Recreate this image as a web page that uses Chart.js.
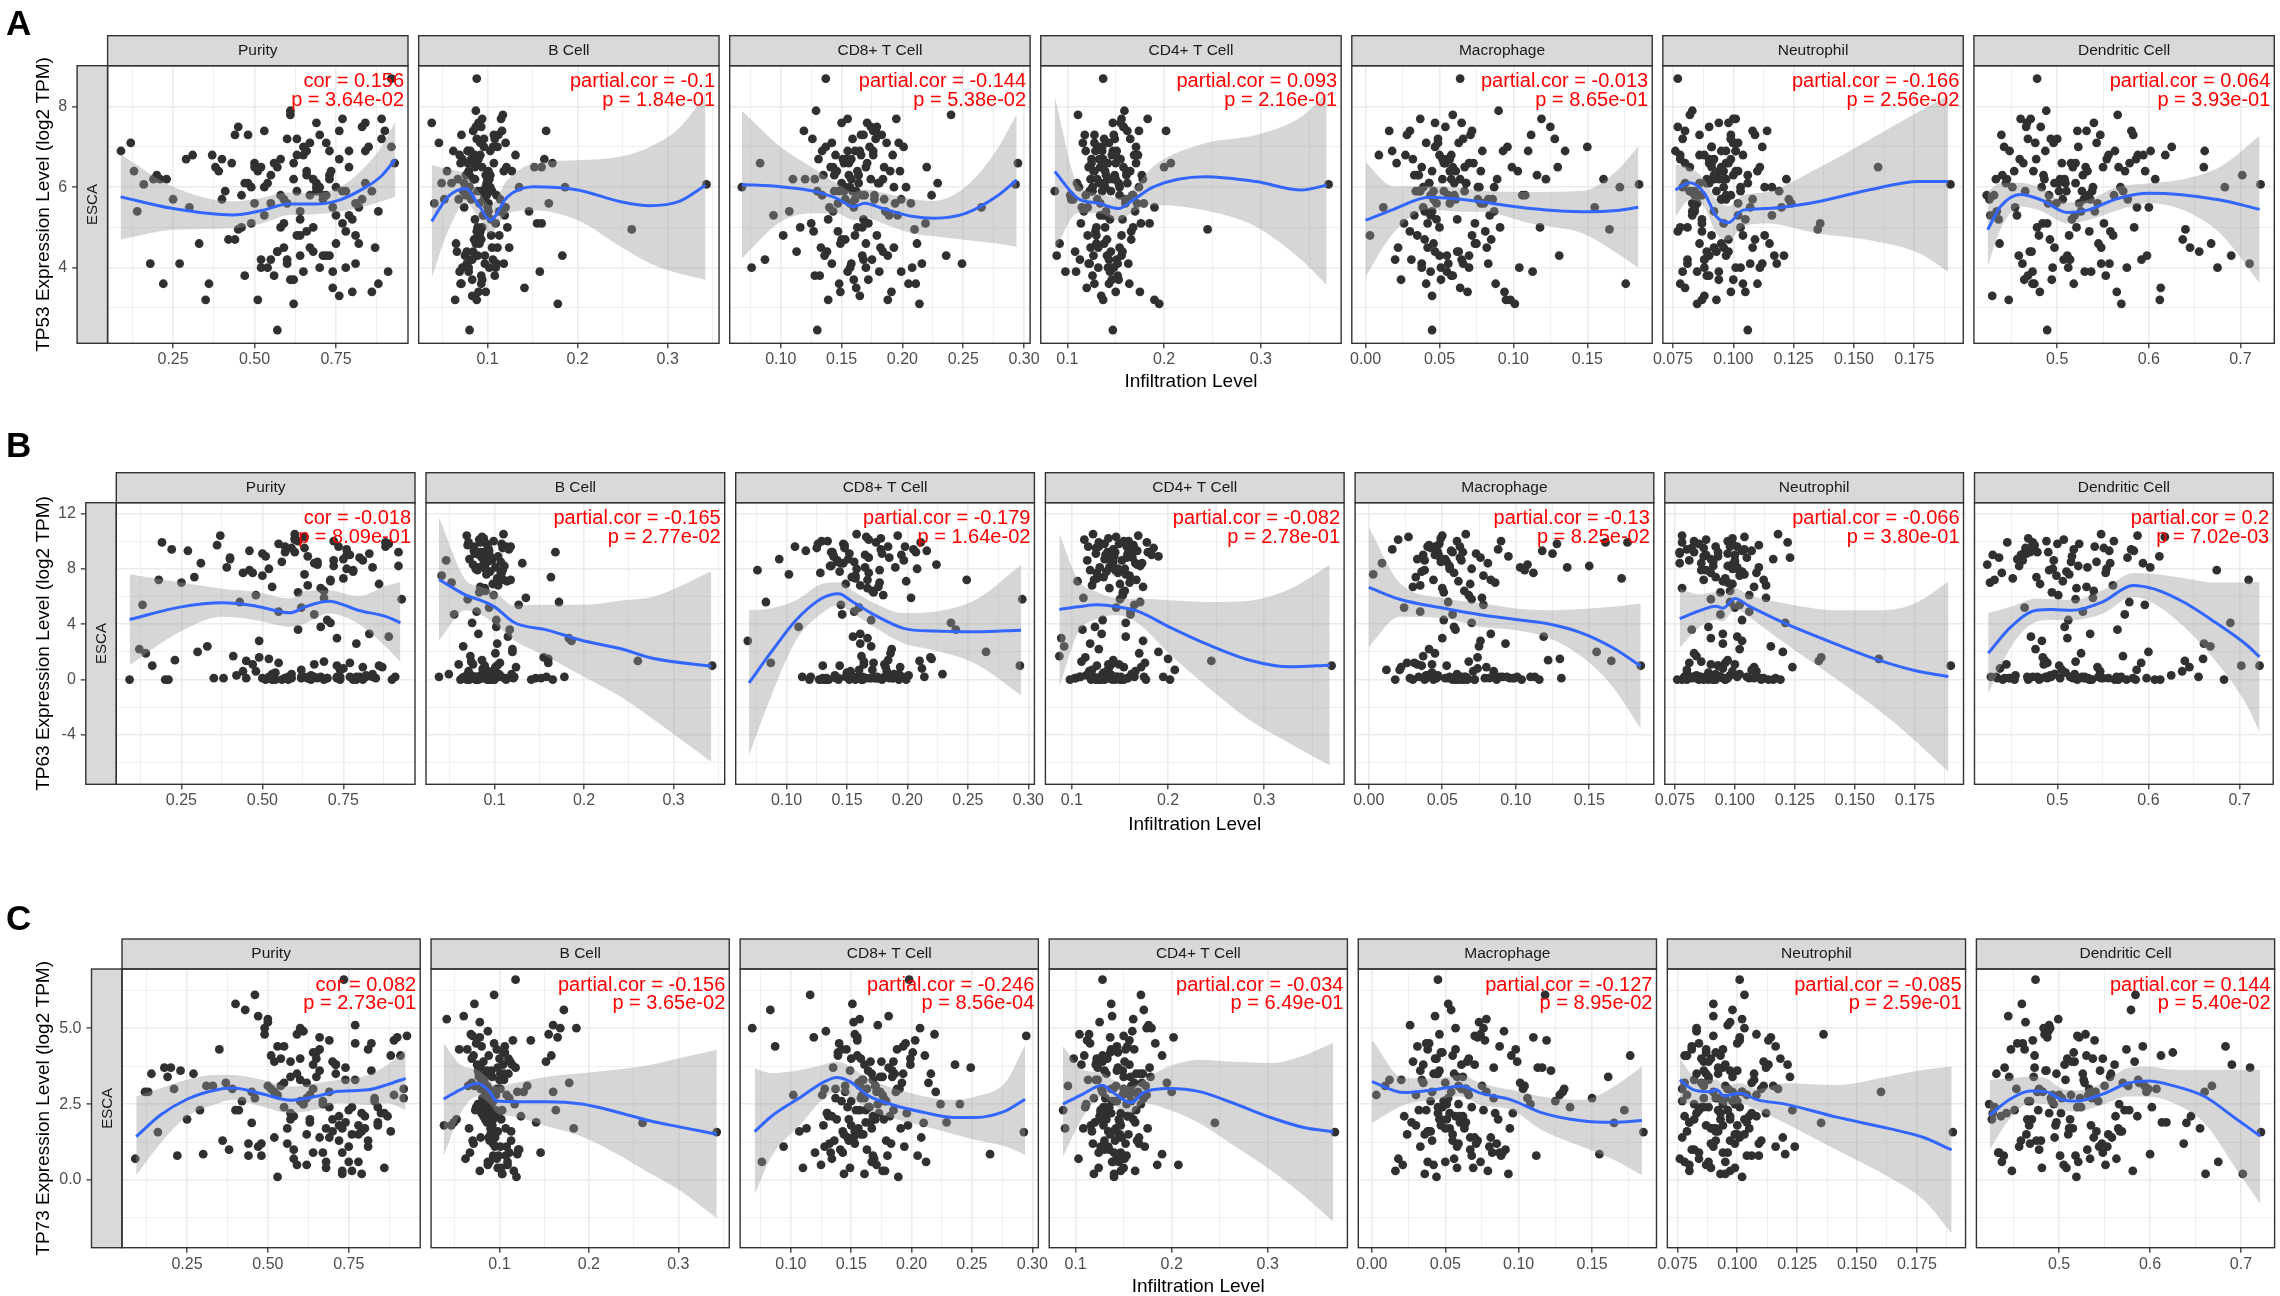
<!DOCTYPE html>
<html><head><meta charset="utf-8"><title>TP53 / TP63 / TP73 vs immune infiltration (ESCA)</title>
<script src="https://cdn.jsdelivr.net/npm/chart.js@4.4.1/dist/chart.umd.min.js"></script>
<style>
html,body{margin:0;padding:0;background:#fff}
#page{position:relative;width:2280px;height:1296px;overflow:hidden;background:#fff;font-family:'Liberation Sans',Arial,Helvetica,sans-serif}
canvas.pc{position:absolute}
.tx{position:absolute;white-space:nowrap;color:#000;line-height:1}
</style></head>
<body><div id="page"></div>
<script>
// ================= DATA =================
const cellTypes = ['Purity','B Cell','CD8+ T Cell','CD4+ T Cell','Macrophage','Neutrophil','Dendritic Cell'];

// infiltration level per sample (shared by all three genes)
const purity = [0.16,0.92,0.57,0.735,0.45,0.30,0.52,0.93,
0.62,0.81,0.48,0.71,0.22,0.58,0.77,0.39,0.68,0.89,
0.55,0.73,0.64,0.84,0.51,0.12,0.69,0.60,0.43,0.79,
0.66,0.47,0.83,0.59,0.75,0.31,0.70,0.53,0.88,0.63,
0.72,0.57,0.41,0.86,0.65,0.19,0.78,0.50,0.61,0.74,
0.54,0.80,0.67,0.37,0.62,0.90,0.46,0.73,0.27,0.58,
0.69,0.82,0.56,0.64,0.49,0.76,0.09,0.71,0.44,0.60,
0.77,0.52,0.66,0.85,0.59,0.23,0.74,0.63,0.40,0.81,
0.57,0.70,0.48,0.91,0.67,0.79,0.33,0.61,0.53,0.75,
0.65,0.36,0.83,0.55,0.72,0.20,0.68,0.87,0.50,0.62,
0.78,0.45,0.60,0.73,0.14,0.84,0.56,0.69,0.42,0.76,
0.51,0.64,0.80,0.29,0.71,0.58,0.89,0.47,0.66,0.74,
0.61,0.38,0.77,0.54,0.68,0.25,0.82,0.63,0.49,0.92,
0.70,0.57,0.86,0.44,0.65,0.13,0.75,0.52,0.79,0.60,
0.67,0.81,0.55,0.35,0.72,0.62,0.18,0.84,0.46,0.69,
0.59,0.76,0.64,0.53,0.88,0.21,0.73,0.40,0.66,0.78,
0.50,0.63];
const bCell = [0.343,0.088,0.080,0.118,0.260,0.120,0.160,0.070,
0.085,0.097,0.071,0.110,0.093,0.082,0.160,0.101,0.066,0.115,
0.091,0.078,0.104,0.049,0.088,0.120,0.095,0.083,0.172,0.099,
0.076,0.108,0.093,0.068,0.087,0.131,0.102,0.080,0.113,0.096,
0.089,0.152,0.073,0.098,0.106,0.084,0.092,0.041,0.117,0.079,
0.100,0.086,0.111,0.069,0.094,0.165,0.081,0.103,0.077,0.122,
0.090,0.074,0.107,0.097,0.186,0.083,0.062,0.114,0.093,0.088,
0.105,0.079,0.055,0.096,0.109,0.086,0.141,0.091,0.072,0.101,
0.084,0.112,0.099,0.158,0.076,0.094,0.065,0.087,0.119,0.103,
0.092,0.070,0.082,0.106,0.046,0.098,0.089,0.124,0.078,0.178,
0.095,0.087,0.110,0.067,0.101,0.081,0.093,0.135,0.085,0.116,
0.079,0.104,0.090,0.163,0.075,0.097,0.108,0.060,0.088,0.100,
0.083,0.121,0.094,0.072,0.102,0.052,0.091,0.086,0.155,0.111,
0.098,0.077,0.089,0.107,0.069,0.127,0.095,0.082,0.103,0.168,
0.092,0.113,0.080,0.064,0.099,0.087,0.118,0.038,0.094,0.074,
0.105,0.090,0.146,0.084,0.071,0.100,0.183,0.096,0.078,0.109,
0.086,0.093];
const cd8 = [0.293,0.137,0.130,0.198,0.210,0.265,0.220,0.295,
0.158,0.142,0.183,0.167,0.205,0.131,0.172,0.190,0.113,0.155,
0.147,0.176,0.161,0.229,0.139,0.187,0.152,0.168,0.083,0.196,
0.164,0.128,0.179,0.153,0.212,0.145,0.170,0.193,0.107,0.159,
0.136,0.185,0.162,0.149,0.201,0.174,0.127,0.157,0.240,0.181,
0.150,0.168,0.133,0.192,0.160,0.119,0.177,0.144,0.216,0.163,
0.171,0.140,0.156,0.188,0.068,0.165,0.134,0.199,0.153,0.178,
0.159,0.208,0.146,0.173,0.125,0.184,0.162,0.102,0.151,0.194,
0.138,0.166,0.180,0.155,0.224,0.143,0.170,0.129,0.189,0.157,
0.176,0.148,0.161,0.087,0.197,0.135,0.167,0.182,0.152,0.214,
0.144,0.174,0.158,0.120,0.186,0.165,0.132,0.203,0.150,0.178,
0.163,0.139,0.191,0.154,0.236,0.169,0.126,0.181,0.147,0.160,
0.172,0.141,0.195,0.157,0.110,0.177,0.149,0.166,0.219,0.137,
0.153,0.184,0.130,0.168,0.199,0.145,0.094,0.175,0.161,0.207,
0.142,0.179,0.156,0.188,0.134,0.171,0.249,0.150,0.116,0.164,
0.193,0.158,0.143,0.176,0.211,0.128,0.167,0.185,0.155,0.076,
0.170,0.148];
const cd4 = [0.370,0.137,0.147,0.128,0.245,0.190,0.200,0.150,
0.131,0.152,0.118,0.167,0.143,0.125,0.176,0.139,0.108,0.156,
0.134,0.147,0.121,0.162,0.190,0.128,0.145,0.113,0.171,0.137,
0.149,0.126,0.158,0.104,0.138,0.173,0.132,0.154,0.117,0.165,
0.141,0.122,0.087,0.150,0.136,0.178,0.129,0.160,0.111,0.144,
0.133,0.157,0.124,0.169,0.146,0.202,0.119,0.140,0.163,0.130,
0.155,0.115,0.142,0.127,0.174,0.135,0.151,0.106,0.166,0.138,
0.123,0.148,0.161,0.132,0.185,0.143,0.120,0.156,0.137,0.172,
0.145,0.128,0.153,0.109,0.168,0.134,0.092,0.159,0.140,0.126,
0.150,0.164,0.131,0.143,0.116,0.177,0.139,0.154,0.125,0.195,
0.136,0.158,0.122,0.147,0.170,0.129,0.152,0.112,0.141,0.162,
0.127,0.144,0.175,0.133,0.156,0.103,0.149,0.138,0.166,0.121,
0.153,0.135,0.183,0.142,0.124,0.160,0.130,0.146,0.114,0.171,
0.139,0.157,0.126,0.148,0.098,0.165,0.134,0.151,0.119,0.179,
0.143,0.130,0.161,0.137,0.154,0.207,0.123,0.147,0.168,0.110,
0.132,0.155,0.140,0.174,0.128,0.150,0.089,0.163,0.136,0.145,
0.158,0.125];
const macro = [0.185,0.064,0.045,0.045,0.165,0.155,0.130,0.070,
0.052,0.038,0.071,0.044,0.088,0.057,0.026,0.103,0.063,0.119,
0.048,0.079,0.035,0.060,0.095,0.041,0.067,0.020,0.054,0.084,
0.033,0.058,0.125,0.046,0.074,0.009,0.051,0.087,0.040,0.066,
0.055,0.099,0.037,0.069,0.047,0.161,0.030,0.078,0.059,0.113,
0.043,0.062,0.082,0.050,0.024,0.072,0.106,0.036,0.056,0.091,
0.065,0.039,0.053,0.131,0.076,0.045,0.018,0.061,0.085,0.049,
0.034,0.070,0.057,0.096,0.042,0.122,0.064,0.003,0.052,0.080,
0.047,0.028,0.068,0.055,0.108,0.038,0.075,0.090,0.044,0.172,
0.058,0.041,0.083,0.031,0.063,0.116,0.050,0.022,0.073,0.101,
0.036,0.054,0.066,0.089,0.045,0.135,0.059,0.077,0.040,0.016,
0.061,0.048,0.094,0.032,0.070,0.056,0.128,0.043,0.081,0.012,
0.051,0.067,0.037,0.104,0.058,0.086,0.046,0.027,0.074,0.150,
0.039,0.062,0.053,0.112,0.044,0.078,0.033,0.065,0.093,0.057,
0.049,0.072,0.035,0.098,0.060,0.021,0.083,0.047,0.118,0.068,
0.042,0.055,0.087,0.030,0.176,0.064,0.050,0.076,0.110,0.038,
0.059,0.046];
const neutro = [0.190,0.077,0.106,0.101,0.135,0.120,0.160,0.090,
0.092,0.081,0.099,0.087,0.104,0.078,0.096,0.110,0.089,0.101,
0.085,0.097,0.113,0.080,0.093,0.102,0.119,0.088,0.098,0.083,
0.100,0.090,0.077,0.108,0.095,0.086,0.103,0.116,0.092,0.079,
0.097,0.111,0.084,0.099,0.091,0.122,0.087,0.102,0.082,0.094,
0.089,0.105,0.096,0.078,0.100,0.114,0.086,0.093,0.107,0.081,
0.098,0.084,0.091,0.117,0.103,0.088,0.076,0.095,0.109,0.099,
0.082,0.101,0.094,0.112,0.087,0.097,0.080,0.104,0.090,0.124,
0.093,0.086,0.106,0.079,0.099,0.091,0.115,0.083,0.102,0.096,
0.088,0.110,0.095,0.081,0.100,0.092,0.078,0.108,0.097,0.085,
0.103,0.090,0.118,0.094,0.083,0.101,0.089,0.113,0.098,0.080,
0.096,0.087,0.105,0.092,0.121,0.084,0.099,0.090,0.077,0.107,
0.094,0.082,0.100,0.111,0.089,0.097,0.086,0.104,0.136,0.091,
0.079,0.098,0.093,0.109,0.085,0.102,0.116,0.088,0.095,0.083,
0.100,0.091,0.106,0.087,0.097,0.080,0.112,0.094,0.103,0.086,
0.092,0.099,0.084,0.108,0.078,0.096,0.090,0.123,0.101,0.088,
0.095,0.082];
const dendritic = [0.722,0.478,0.489,0.474,0.640,0.600,0.660,0.520,
0.503,0.462,0.547,0.431,0.518,0.586,0.489,0.533,0.655,0.471,
0.524,0.448,0.561,0.497,0.612,0.476,0.538,0.507,0.579,0.427,
0.485,0.553,0.466,0.529,0.437,0.594,0.512,0.683,0.541,0.493,
0.458,0.517,0.572,0.481,0.625,0.445,0.535,0.499,0.566,0.473,
0.509,0.436,0.548,0.588,0.464,0.522,0.491,0.702,0.557,0.478,
0.540,0.454,0.515,0.598,0.483,0.429,0.563,0.506,0.637,0.468,
0.527,0.495,0.574,0.442,0.551,0.486,0.613,0.513,0.459,0.544,
0.470,0.583,0.501,0.530,0.423,0.567,0.668,0.488,0.519,0.451,
0.556,0.475,0.536,0.592,0.496,0.440,0.521,0.645,0.463,0.570,
0.510,0.482,0.548,0.433,0.526,0.602,0.468,0.539,0.492,0.581,
0.453,0.516,0.565,0.477,0.690,0.534,0.500,0.444,0.558,0.587,
0.494,0.531,0.460,0.576,0.508,0.426,0.545,0.618,0.484,0.523,
0.569,0.472,0.502,0.439,0.537,0.596,0.456,0.514,0.661,0.490,
0.543,0.480,0.528,0.447,0.562,0.505,0.710,0.467,0.584,0.520,
0.497,0.554,0.434,0.532,0.473,0.607,0.511,0.577,0.487,0.675,
0.550,0.465];

// expression, log2 TPM, per sample
const tp53 = [6.07,8.70,2.45,6.40,4.95,5.50,6.50,6.60,
6.2,4.1,7.3,5.8,3.6,6.7,5.1,6.4,4.4,7.7,
5.6,6.9,4.8,6.1,3.2,7.1,5.9,4.2,6.6,5.3,
6.3,3.8,7.5,5.7,4.6,6.8,4.0,6.0,5.4,7.2,
4.3,6.5,5.9,3.4,7.0,6.2,4.9,5.6,7.8,3.9,
6.1,5.2,4.5,6.8,3.7,7.4,5.8,6.3,4.1,5.0,
7.6,5.5,6.6,4.3,6.0,3.3,6.9,5.7,4.7,7.2,
5.9,4.0,6.4,7.0,5.1,6.2,3.5,4.8,6.7,5.6,
4.4,7.3,6.1,3.9,5.8,6.5,4.6,7.9,5.3,6.0,
6.8,3.6,5.7,4.2,7.1,6.3,5.0,4.5,6.6,3.1,
5.9,7.5,4.1,6.2,5.4,6.9,3.8,6.0,4.7,7.4,
6.4,5.2,3.4,6.7,4.3,5.8,7.2,6.1,4.9,5.5,
3.7,6.5,7.7,4.0,6.2,5.7,4.6,6.8,5.1,7.0,
6.0,4.4,5.9,7.3,3.9,6.4,5.3,4.2,6.9,5.6,
7.1,4.8,6.3,3.2,5.8,6.6,4.1,7.6,5.0,6.1,
4.5,6.7,5.4,7.4,3.6,6.2,4.3,5.7,6.9,4.0,
6.5,5.9];
const tp63 = [1.00,9.20,0.10,9.60,1.35,2.00,1.50,5.80,
0.1,8.6,0.6,7.2,9.4,0.0,1.2,8.1,0.2,3.1,
9.8,0.1,6.8,0.4,8.9,2.2,0.0,10.1,5.6,0.2,
1.1,7.7,9.1,0.1,0.8,8.4,4.3,0.0,9.6,0.2,
8.2,0.1,1.7,6.9,0.3,9.9,0.0,7.5,3.6,0.2,
0.5,8.8,0.1,10.4,5.2,0.0,7.9,1.0,9.3,0.2,
6.4,0.3,8.5,0.1,2.8,9.0,0.0,7.1,0.6,10.2,
0.2,8.0,4.7,0.1,9.5,1.4,0.0,7.6,8.7,0.9,
9.2,0.1,6.1,0.2,8.3,0.0,2.4,10.0,0.4,7.3,
0.1,9.7,3.3,1.2,8.6,0.0,6.6,0.9,9.1,0.2,
7.8,0.1,10.5,0.2,1.9,8.1,0.0,5.9,0.3,9.4,
0.0,8.9,0.2,7.4,4.1,0.1,9.8,1.1,8.4,0.7,
6.3,0.1,9.0,0.0,3.8,7.0,0.2,10.3,1.6,8.2,
0.1,9.6,1.0,7.7,0.0,5.4,8.7,0.2,2.6,9.2,
8.5,0.0,4.9,0.1,10.0,0.7,7.2,0.2,9.3,1.3,
0.4,8.0,0.1,6.7,9.9,0.0,3.0,8.8,0.2,7.9,
0.1,9.5];
const tp73 = [1.58,3.00,2.20,6.60,1.88,0.85,2.90,4.75,
2.7,4.3,1.2,3.5,0.8,2.1,5.1,3.0,1.7,4.6,
2.4,0.3,3.8,1.9,4.1,2.9,1.4,3.3,5.6,2.2,
3.6,1.1,2.6,4.8,0.6,3.1,2.0,4.4,1.6,2.8,
1.3,3.9,2.3,0.4,4.2,3.4,1.8,5.3,2.5,3.7,
4.0,2.1,0.9,3.2,1.5,4.7,2.7,0.2,3.5,1.0,
2.9,4.5,1.7,3.0,5.0,2.4,0.7,3.8,1.2,2.6,
3.3,1.4,4.3,2.2,0.5,3.6,1.9,2.8,5.8,1.1,
2.0,3.9,0.8,4.1,2.5,1.6,3.1,4.9,0.1,2.3,
3.4,1.3,2.7,4.4,1.8,3.7,0.6,2.1,5.2,3.2,
1.5,2.9,4.0,0.9,3.5,2.4,1.2,4.6,2.6,0.3,
3.0,4.2,1.7,2.3,3.8,0.7,2.8,5.4,1.4,3.3,
2.5,1.0,4.5,3.1,0.4,2.0,3.6,1.9,4.8,2.7,
1.6,3.4,2.2,0.8,4.0,2.9,1.1,3.9,0.2,5.0,
2.6,1.3,3.2,4.3,2.1,0.5,3.7,1.8,6.1,2.4,
3.5,1.5,0.9,2.8,4.1,3.0,1.7,2.3,4.7,0.6,
3.1,2.0];

// tick labels
const purityTicks = ['0.25','0.50','0.75'];
const bCellTicks = ['0.1','0.2','0.3'];
const cd8Ticks = ['0.10','0.15','0.20','0.25','0.30'];
const cd4Ticks = ['0.1','0.2','0.3'];
const macroTicks = ['0.00','0.05','0.10','0.15'];
const neutroTicks = ['0.075','0.100','0.125','0.150','0.175'];
const dendriticTicks = ['0.5','0.6','0.7'];
const tp53Ticks = ['4','6','8'];
const tp63Ticks = ['-4','0','4','8','12'];
const tp73Ticks = ['0.0','2.5','5.0'];

// correlation annotations
const corA = ['cor = 0.156','partial.cor = -0.1','partial.cor = -0.144','partial.cor = 0.093','partial.cor = -0.013','partial.cor = -0.166','partial.cor = 0.064'];
const pA = ['p = 3.64e-02','p = 1.84e-01','p = 5.38e-02','p = 2.16e-01','p = 8.65e-01','p = 2.56e-02','p = 3.93e-01'];
const corB = ['cor = -0.018','partial.cor = -0.165','partial.cor = -0.179','partial.cor = -0.082','partial.cor = -0.13','partial.cor = -0.066','partial.cor = 0.2'];
const pB = ['p = 8.09e-01','p = 2.77e-02','p = 1.64e-02','p = 2.78e-01','p = 8.25e-02','p = 3.80e-01','p = 7.02e-03'];
const corC = ['cor = 0.082','partial.cor = -0.156','partial.cor = -0.246','partial.cor = -0.034','partial.cor = -0.127','partial.cor = -0.085','partial.cor = 0.144'];
const pC = ['p = 2.73e-01','p = 3.65e-02','p = 8.56e-04','p = 6.49e-01','p = 8.95e-02','p = 2.59e-01','p = 5.40e-02'];

// loess fits (x, fit, lower, upper)
const fitA_purity = {x:[0.089,0.25,0.433,0.522,0.604,0.686,0.76,0.835,0.887,0.932], y:[5.76,5.47,5.31,5.42,5.58,5.58,5.68,5.97,6.26,6.69], lo:[4.70,4.94,4.98,5.10,5.31,5.33,5.39,5.52,5.64,5.76], hi:[6.82,6.01,5.65,5.74,5.87,5.85,5.99,6.47,6.98,7.63]};
const fitA_bcell = {x:[0.038,0.056,0.076,0.090,0.103,0.122,0.151,0.200,0.248,0.280,0.312,0.342], y:[5.15,5.76,5.97,5.56,5.18,5.76,6.01,5.93,5.64,5.54,5.64,6.05], lo:[3.75,4.90,5.60,5.25,4.85,5.35,5.43,5.18,4.52,4.11,3.86,3.70], hi:[6.55,6.45,6.30,5.90,5.55,6.18,6.59,6.67,6.76,7.00,7.45,8.30]};
const fitA_cd8 = {x:[0.068,0.10,0.129,0.146,0.16,0.169,0.184,0.209,0.226,0.252,0.277,0.294], y:[6.07,6.01,5.89,5.72,5.52,5.60,5.47,5.27,5.23,5.35,5.76,6.18], lo:[4.23,5.14,5.35,5.35,5.18,5.25,5.10,4.85,4.78,4.69,4.60,4.52], hi:[7.90,7.00,6.43,6.10,5.88,5.95,5.86,5.70,5.66,6.01,6.90,7.82]};
const fitA_cd4 = {x:[0.087,0.111,0.132,0.153,0.168,0.189,0.242,0.295,0.342,0.368], y:[6.39,5.72,5.60,5.47,5.68,6.01,6.26,6.14,5.93,6.05], lo:[4.44,5.35,5.35,5.18,5.39,5.56,5.43,5.02,4.19,3.57], hi:[8.25,6.07,5.85,5.74,5.95,6.52,7.09,7.30,7.75,8.35]};
const fitA_macro = {x:[0.0,0.019,0.043,0.064,0.0776,0.112,0.147,0.170,0.1845], y:[5.18,5.45,5.75,5.70,5.64,5.47,5.39,5.42,5.50], lo:[3.78,4.87,5.45,5.39,5.39,5.10,4.85,4.36,4.0], hi:[6.62,6.02,6.03,5.99,5.91,5.88,5.91,6.41,7.02]};
const fitA_neutro = {x:[0.076,0.082,0.088,0.093,0.098,0.104,0.114,0.135,0.156,0.177,0.189], y:[5.93,6.11,5.85,5.27,5.12,5.43,5.47,5.64,5.93,6.14,6.14], lo:[5.27,5.68,5.5,4.85,4.69,5.02,5.10,4.85,4.69,4.36,3.90], hi:[6.57,6.48,6.2,5.68,5.53,5.80,5.88,6.47,7.17,7.88,8.28]};
const fitA_dendritic = {x:[0.424,0.438,0.46,0.483,0.511,0.533,0.566,0.60,0.633,0.678,0.721], y:[4.94,5.52,5.82,5.68,5.37,5.43,5.72,5.85,5.82,5.68,5.45], lo:[4.03,4.95,5.52,5.40,5.10,5.18,5.43,5.60,5.47,4.85,3.61], hi:[5.90,6.10,6.11,5.97,5.62,5.68,6.01,6.10,6.18,6.51,7.28]};

const fitB_purity = {x:[0.09,0.25,0.377,0.481,0.586,0.631,0.705,0.795,0.884,0.926], y:[4.34,5.25,5.54,5.30,4.82,5.25,5.66,5.01,4.53,4.10], lo:[1.04,3.50,4.53,4.29,3.81,4.05,4.77,4.05,2.30,1.28], hi:[7.60,7.00,6.56,6.32,5.85,6.40,6.45,6.03,6.80,7.05]};
const fitB_bcell = {x:[0.038,0.068,0.084,0.10,0.122,0.159,0.197,0.24,0.278,0.342], y:[7.23,6.10,5.73,5.25,4.12,3.57,2.84,2.24,1.52,0.96], lo:[2.84,5.01,4.70,4.05,2.84,1.64,0.30,-1.20,-2.90,-5.95], hi:[11.70,7.18,6.72,6.35,5.35,5.40,5.40,5.70,6.00,7.80]};
const fitB_cd8 = {x:[0.069,0.087,0.108,0.129,0.143,0.155,0.172,0.197,0.222,0.256,0.294], y:[-0.24,1.94,4.30,5.85,6.20,5.60,4.70,3.70,3.50,3.45,3.57], lo:[-5.47,-1.25,2.84,4.77,5.37,4.77,3.81,2.60,2.12,1.16,-1.13], hi:[5.01,5.13,5.73,6.90,7.02,6.40,5.55,4.80,4.90,5.74,8.27]};
const fitB_cd4 = {x:[0.087,0.106,0.127,0.148,0.169,0.201,0.243,0.285,0.327,0.368], y:[5.06,5.25,5.40,5.25,4.93,3.81,2.48,1.40,0.92,1.04], lo:[-0.53,3.33,4.41,4.65,4.05,1.88,-0.65,-2.94,-4.63,-6.19], hi:[10.55,7.25,6.30,5.86,5.83,5.73,5.61,5.70,6.55,8.27]};
const fitB_macro = {x:[0.0,0.021,0.052,0.0759,0.10,0.121,0.145,0.166,0.185], y:[6.65,5.80,5.13,4.68,4.34,4.05,3.36,2.30,0.98], lo:[2.36,4.53,4.41,3.81,3.57,3.08,1.64,-0.53,-3.54], hi:[11.00,7.00,5.85,5.52,5.13,5.01,5.10,5.25,5.50]};
const fitB_neutro = {x:[0.077,0.085,0.092,0.095,0.10,0.106,0.121,0.143,0.160,0.175,0.189], y:[4.40,4.95,5.30,5.15,5.86,5.30,4.05,2.50,1.40,0.65,0.22], lo:[2.30,3.75,4.30,4.20,5.10,4.50,2.60,-0.05,-2.22,-4.39,-6.67], hi:[6.55,6.15,6.30,6.10,6.60,6.10,5.49,5.00,5.00,5.50,7.06]};
const fitB_dendritic = {x:[0.424,0.449,0.477,0.494,0.516,0.55,0.583,0.606,0.639,0.673,0.707,0.722], y:[1.90,3.80,5.01,5.06,5.00,5.62,6.80,6.55,5.58,4.15,2.55,1.64], lo:[-1.01,2.36,4.17,4.30,4.29,4.77,5.98,5.49,3.81,1.40,-1.73,-3.78], hi:[4.80,5.25,5.86,5.80,5.73,6.46,7.70,7.62,7.32,7.00,7.00,7.06]};

const fitC_purity = {x:[0.093,0.168,0.25,0.332,0.392,0.481,0.571,0.646,0.72,0.81,0.869,0.926], y:[1.43,2.14,2.66,2.95,3.03,2.84,2.63,2.75,2.92,2.97,3.14,3.35], lo:[0.16,1.21,2.09,2.47,2.64,2.42,2.20,2.31,2.53,2.47,2.53,2.31], hi:[2.75,3.02,3.30,3.46,3.46,3.30,3.08,3.19,3.30,3.46,3.79,4.29]};
const fitC_bcell = {x:[0.0375,0.0565,0.0755,0.089,0.097,0.116,0.154,0.192,0.23,0.268,0.301,0.343], y:[2.67,2.98,3.19,2.91,2.60,2.58,2.58,2.50,2.25,1.95,1.75,1.51], lo:[0.77,2.20,2.75,2.50,2.20,2.09,1.76,1.43,0.88,0.22,-0.33,-1.26], hi:[4.51,3.80,3.63,3.30,3.08,3.19,3.41,3.52,3.63,3.79,4.01,4.29]};
const fitC_cd8 = {x:[0.07,0.084,0.109,0.126,0.138,0.149,0.164,0.185,0.211,0.232,0.253,0.278,0.294], y:[1.59,2.10,2.75,3.20,3.38,3.24,2.78,2.47,2.22,2.07,2.06,2.28,2.66], lo:[-0.49,0.77,1.87,2.64,2.91,2.75,2.31,2.03,1.76,1.54,1.32,1.10,0.82], hi:[3.68,3.52,3.63,3.79,3.90,3.74,3.35,3.02,2.75,2.64,2.75,3.24,4.45]};
const fitC_cd4 = {x:[0.0868,0.108,0.128,0.139,0.158,0.171,0.197,0.229,0.261,0.303,0.339,0.368], y:[2.50,2.84,3.12,2.88,2.55,2.89,3.01,2.91,2.57,2.06,1.72,1.59], lo:[0.77,2.09,2.75,2.50,2.20,2.53,2.31,1.87,1.21,0.33,-0.55,-1.37], hi:[4.40,3.63,3.52,3.30,3.08,3.30,3.74,3.96,3.90,3.85,4.12,4.51]};
const fitC_macro = {x:[0.0,0.0218,0.043,0.0606,0.074,0.0948,0.1155,0.143,0.165,0.184], y:[3.24,2.88,2.98,3.10,2.86,2.64,2.22,1.95,1.90,1.96], lo:[1.87,2.47,2.64,2.75,2.47,2.31,1.65,1.10,0.66,0.16], hi:[4.62,3.35,3.35,3.46,3.19,2.97,2.75,2.64,3.08,3.74]};
const fitC_neutro = {x:[0.076,0.0818,0.0882,0.0914,0.0946,0.101,0.1085,0.12,0.1415,0.163,0.1778,0.1895], y:[3.30,2.97,2.91,2.97,2.77,2.86,2.64,2.50,2.07,1.70,1.40,0.99], lo:[2.53,2.53,2.53,2.60,2.45,2.53,2.30,1.87,0.99,0.11,-0.66,-1.76], hi:[4.01,3.41,3.30,3.30,3.10,3.19,3.00,3.19,3.13,3.41,3.63,3.74]};
const fitC_dendritic = {x:[0.4236,0.446,0.4685,0.4854,0.502,0.519,0.547,0.575,0.598,0.626,0.66,0.693,0.721], y:[2.14,2.66,2.93,2.91,2.66,2.60,2.82,3.18,3.26,3.10,2.75,2.05,1.45], lo:[0.99,2.03,2.53,2.50,2.31,2.25,2.47,2.75,2.75,2.53,1.87,0.44,-0.77], hi:[3.30,3.35,3.41,3.35,3.02,2.95,3.19,3.68,3.74,3.63,3.63,3.63,3.63]};

// ================= LAYOUT / STYLE =================
const FONT = "'Liberation Sans', Arial, Helvetica, sans-serif";
const xSeries = [purity, bCell, cd8, cd4, macro, neutro, dendritic];
const xTickSets = [purityTicks, bCellTicks, cd8Ticks, cd4Ticks, macroTicks, neutroTicks, dendriticTicks];
const xRanges = [[0.049,0.971],[0.0235,0.357],[0.058,0.305],[0.0725,0.383],[-0.0093,0.1939],[0.0708,0.1953],[0.409,0.737]];

const rows = [
  {letter:'A', gene:tp53, title:'TP53 Expression Level (log2 TPM)', yr:[2.12,9.02], yt:tp53Ticks, cor:corA, p:pA,
   fits:[fitA_purity,fitA_bcell,fitA_cd8,fitA_cd4,fitA_macro,fitA_neutro,fitA_dendritic],
   top:65.7, bottom:343.3, left0:107.6, w:300.4, step:311.05, letterTop:5.4, xTitleY:380},
  {letter:'B', gene:tp63, title:'TP63 Expression Level (log2 TPM)', yr:[-7.56,12.77], yt:tp63Ticks, cor:corB, p:pB,
   fits:[fitB_purity,fitB_bcell,fitB_cd8,fitB_cd4,fitB_macro,fitB_neutro,fitB_dendritic],
   top:502.7, bottom:784.3, left0:116.3, w:298.7, step:309.7, letterTop:427, xTitleY:823},
  {letter:'C', gene:tp73, title:'TP73 Expression Level (log2 TPM)', yr:[-2.23,6.95], yt:tp73Ticks, cor:corC, p:pC,
   fits:[fitC_purity,fitC_bcell,fitC_cd8,fitC_cd4,fitC_macro,fitC_neutro,fitC_dendritic],
   top:969, bottom:1247.7, left0:122, w:298.2, step:309.07, letterTop:900, xTitleY:1285}
];

function makeTicks(labels, lo, hi) {
  const vals = labels.map(parseFloat);
  const st = vals[1] - vals[0];
  const out = vals.map((v, i) => ({value: v, mj: true, lbl: labels[i]}));
  for (let k = -1; k <= vals.length; k++) {
    const v = +(vals[0] + (k + 0.5) * st).toFixed(6);
    if (v >= lo && v <= hi) out.push({value: v, mj: false, lbl: ''});
  }
  return out.sort((a, b) => a.value - b.value);
}

function decoPlugin(opt) {
  return {
    id: 'deco',
    afterDatasetsDraw(chart) {
      const ctx = chart.ctx, a = chart.chartArea;
      ctx.save();
      ctx.fillStyle = '#FF0000';
      ctx.font = '20px ' + FONT;
      ctx.textAlign = 'right';
      ctx.textBaseline = 'middle';
      ctx.fillText(opt.cor, a.right - 4, a.top + 16);
      ctx.fillText(opt.p, a.right - 4, a.top + 34.5);
      ctx.restore();
    },
    afterDraw(chart) {
      const ctx = chart.ctx, a = chart.chartArea;
      const w = a.right - a.left, h = a.bottom - a.top;
      ctx.save();
      ctx.lineWidth = 1.4;
      ctx.strokeStyle = '#333333';
      // strip on top
      ctx.fillStyle = '#D9D9D9';
      ctx.fillRect(a.left, a.top - 30, w, 30);
      ctx.strokeRect(a.left, a.top - 30, w, 30);
      ctx.fillStyle = '#1A1A1A';
      ctx.font = '15.5px ' + FONT;
      ctx.textAlign = 'center';
      ctx.textBaseline = 'middle';
      ctx.fillText(opt.strip, a.left + w / 2, a.top - 15);
      // side strip (first panel)
      if (opt.first) {
        ctx.fillStyle = '#D9D9D9';
        ctx.fillRect(a.left - 30.5, a.top, 30.5, h);
        ctx.strokeRect(a.left - 30.5, a.top, 30.5, h);
        ctx.save();
        ctx.translate(a.left - 15.25, a.top + h / 2);
        ctx.rotate(-Math.PI / 2);
        ctx.fillStyle = '#1A1A1A';
        ctx.font = '15px ' + FONT;
        ctx.fillText('ESCA', 0, 1);
        ctx.restore();
      }
      // panel border
      ctx.strokeRect(a.left, a.top, w, h);
      ctx.restore();
    }
  };
}

const page = document.getElementById('page');
const gridW = ctx => (ctx.tick && ctx.tick.mj) ? 1.6 : 0.8;
const tickC = ctx => (ctx.tick && ctx.tick.mj) ? '#333333' : 'rgba(0,0,0,0)';

rows.forEach((row) => {
  for (let c = 0; c < 7; c++) {
    const first = c === 0;
    const pl = row.left0 + c * row.step, pr = pl + row.w;
    const cLeft = first ? 0 : Math.floor(pl - 30);
    const cTop = Math.floor(row.top - 40);
    const cRight = Math.ceil(pr + 30);
    const cBottom = Math.ceil(row.bottom + 36);
    const W = cRight - cLeft, H = cBottom - cTop;
    const padL = first ? 27.6 : pl - cLeft;
    const yW = first ? pl - 27.6 : 0;
    const padT = row.top - cTop;
    const padR = cRight - pr;
    const padB = cBottom - row.bottom - 30;

    const cv = document.createElement('canvas');
    cv.className = 'pc';
    cv.width = W; cv.height = H;
    cv.style.left = cLeft + 'px'; cv.style.top = cTop + 'px';
    cv.style.width = W + 'px'; cv.style.height = H + 'px';
    page.appendChild(cv);

    const xs = xSeries[c];
    const pts = xs.map((x, i) => ({x: x, y: row.gene[i]}));
    const f = row.fits[c];
    const up = f.x.map((x, i) => ({x: x, y: f.hi[i]}));
    const lw = f.x.map((x, i) => ({x: x, y: f.lo[i]}));
    const fit = f.x.map((x, i) => ({x: x, y: f.y[i]}));
    const xr = xRanges[c];

    new Chart(cv, {
      type: 'scatter',
      data: {datasets: [
        {type: 'scatter', data: pts, order: 3, pointRadius: 4.4, pointHoverRadius: 4.4,
         pointBackgroundColor: '#303030', pointBorderWidth: 0, pointBorderColor: 'rgba(0,0,0,0)'},
        {type: 'line', data: up, order: 2, fill: '+1', backgroundColor: 'rgba(153,153,153,0.4)',
         borderColor: 'rgba(0,0,0,0)', borderWidth: 0, pointRadius: 0, cubicInterpolationMode: 'monotone'},
        {type: 'line', data: lw, order: 2, fill: false, borderColor: 'rgba(0,0,0,0)', borderWidth: 0,
         pointRadius: 0, cubicInterpolationMode: 'monotone'},
        {type: 'line', data: fit, order: 1, fill: false, borderColor: '#3366FF', borderWidth: 3,
         pointRadius: 0, cubicInterpolationMode: 'monotone'}
      ]},
      options: {
        responsive: false, animation: false, events: [],
        layout: {padding: {left: padL, right: padR, top: padT, bottom: padB}},
        plugins: {legend: {display: false}, tooltip: {enabled: false}},
        scales: {
          x: {type: 'linear', position: 'bottom', min: xr[0], max: xr[1], bounds: 'data',
            afterBuildTicks: s => { s.ticks = makeTicks(xTickSets[c], xr[0], xr[1]); },
            afterFit: s => { s.height = 30; },
            ticks: {autoSkip: false, maxRotation: 0, minRotation: 0, padding: 2, color: '#4D4D4D',
              font: {family: FONT, size: 16}, callback: (v, i, t) => t[i].lbl},
            grid: {color: '#EBEBEB', lineWidth: gridW, drawTicks: true, tickLength: 5, tickColor: tickC, tickWidth: 1.3},
            border: {display: false}},
          y: {type: 'linear', position: 'left', min: row.yr[0], max: row.yr[1], bounds: 'data',
            afterBuildTicks: s => { s.ticks = makeTicks(row.yt, row.yr[0], row.yr[1]); },
            afterFit: s => { s.width = yW; },
            ticks: {display: first, autoSkip: false, padding: 5, color: '#4D4D4D',
              font: {family: FONT, size: 16}, callback: (v, i, t) => t[i].lbl},
            grid: {color: '#EBEBEB', lineWidth: gridW, drawTicks: first, tickLength: 35.5, tickColor: tickC, tickWidth: 1.3},
            border: {display: false},
            title: {display: first, text: row.title, color: '#000000', font: {family: FONT, size: 19},
              padding: {top: 5, bottom: 0}}}
        }
      },
      plugins: [decoPlugin({cor: row.cor[c], p: row.p[c], strip: cellTypes[c], first: first})]
    });
  }

  // row letter
  const L = document.createElement('div');
  L.className = 'tx';
  L.textContent = row.letter;
  L.style.left = '6px'; L.style.top = row.letterTop + 'px';
  L.style.font = 'bold 35px ' + FONT; L.style.lineHeight = '1';
  page.appendChild(L);

  // x-axis title
  const T = document.createElement('div');
  T.className = 'tx';
  T.textContent = 'Infiltration Level';
  const cx = (row.left0 + row.left0 + 6 * row.step + row.w) / 2;
  T.style.left = cx + 'px'; T.style.top = row.xTitleY + 'px';
  T.style.transform = 'translate(-50%,-50%)';
  T.style.font = '19px ' + FONT; T.style.lineHeight = '1';
  page.appendChild(T);
});
</script>
</body></html>
